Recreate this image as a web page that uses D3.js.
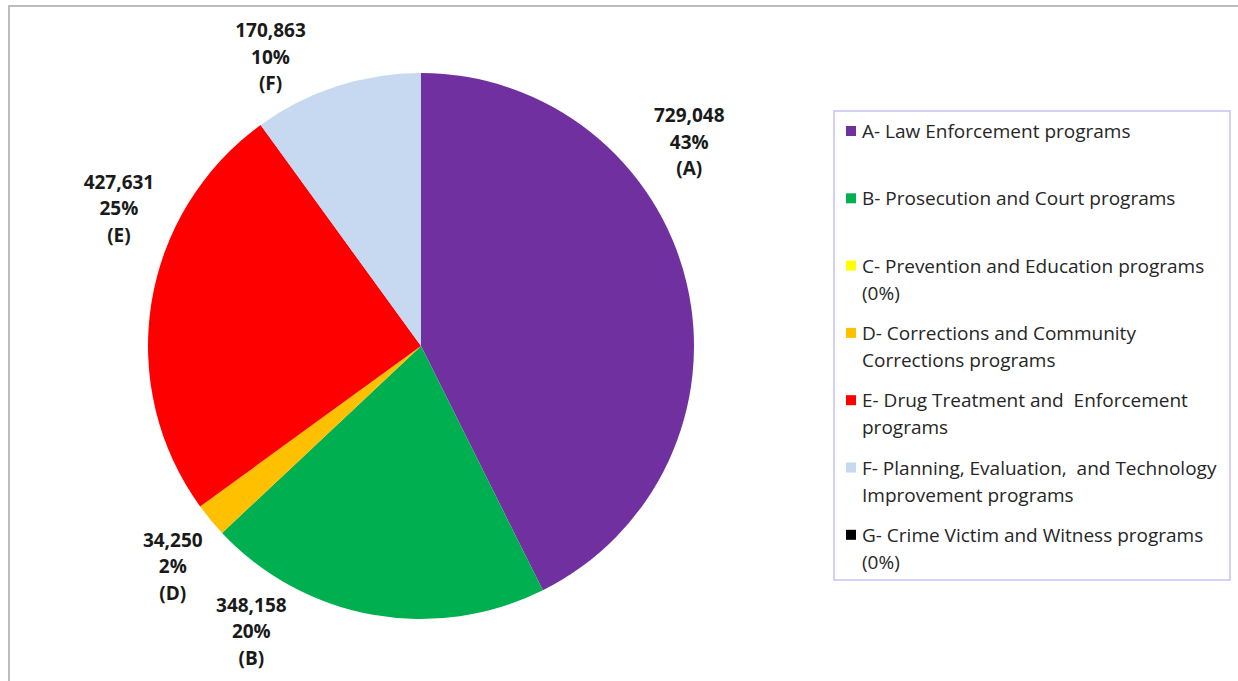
<!DOCTYPE html>
<html>
<head>
<meta charset="utf-8">
<script src="https://cdn.jsdelivr.net/npm/d3@7"></script>
<style>
  body { margin: 0; background: #fff; }
  svg { display: block; font-family: "Open Sans", "DejaVu Sans", sans-serif; }
  .legend text { white-space: pre; }
</style>
</head>
<body>
<svg id="chart" width="1238" height="681"></svg>
<script>
// --- Data ---
const codes = ["A", "B", "C", "D", "E", "F", "G"];
const categories = [
  "A- Law Enforcement programs",
  "B- Prosecution and Court programs",
  "C- Prevention and Education programs\n(0%)",
  "D- Corrections and Community\nCorrections programs",
  "E- Drug Treatment and  Enforcement\nprograms",
  "F- Planning, Evaluation,  and Technology\nImprovement programs",
  "G- Crime Victim and Witness programs\n(0%)"
];
const amounts = [729048, 348158, 0, 34250, 427631, 170863, 0];
const colors = ["#7030A0", "#00B050", "#FFFF00", "#FFC000", "#FF0000", "#C6D9F1", "#000000"];

// label placement (Excel best-fit emulation): [degrees added to mid-angle, px added to label radius]
const labelNudge = [[-24, 5], [20.6, 0], [0, 0], [-2, 0], [15.5, 0], [-9.5, -6], [0, 0]];

const svg = d3.select("#chart");

// outer chart frame
svg.append("rect")
  .attr("x", 9).attr("y", 6)
  .attr("width", 1260).attr("height", 700)
  .attr("fill", "none")
  .attr("stroke", "#a6a6a6")
  .attr("stroke-width", 1.5);

// --- Pie ---
const cx = 421, cy = 346, radius = 273;
const total = d3.sum(amounts);
const pie = d3.pie().sort(null).value((d) => d.value);
const rows = amounts.map((v, i) => ({ value: v, code: codes[i], color: colors[i], i }));
const arcs = pie(rows);
const arc = d3.arc().innerRadius(0).outerRadius(radius);

const g = svg.append("g").attr("transform", `translate(${cx},${cy})`);

g.selectAll("path")
  .data(arcs)
  .join("path")
  .attr("d", arc)
  .attr("fill", (d) => d.data.color);

// data labels
const fmt = d3.format(",");
const labelR = 332;
const lbl = g.selectAll("g.lbl")
  .data(arcs.filter((d) => d.data.value > 0))
  .join("g")
  .attr("class", "lbl")
  .attr("transform", (d) => {
    const [da, dr] = labelNudge[d.data.i];
    const a = (d.startAngle + d.endAngle) / 2 + da * Math.PI / 180;
    const r = labelR + dr;
    return `translate(${r * Math.sin(a)},${-r * Math.cos(a)})`;
  });

lbl.each(function(d) {
  const lines = [fmt(d.data.value), Math.round(d.data.value / total * 100) + "%", `(${d.data.code})`];
  d3.select(this).selectAll("text")
    .data(lines)
    .join("text")
    .attr("text-anchor", "middle")
    .attr("dominant-baseline", "central")
    .attr("y", (t, k) => (k - 1) * 26.5)
    .attr("font-size", "19px")
    .attr("font-weight", "700")
    .attr("fill", "#1a1a1a")
    .text((t) => t);
});

// --- Legend ---
const lx = 834, ly = 111, lw = 396, lh = 469;
svg.append("rect")
  .attr("x", lx).attr("y", ly)
  .attr("width", lw).attr("height", lh)
  .attr("fill", "#fff")
  .attr("stroke", "#c8c2f4")
  .attr("stroke-width", 1.5);

const slot = 67.3, lineH = 27;
const legend = svg.append("g").attr("class", "legend")
  .selectAll("g")
  .data(categories)
  .join("g")
  .attr("transform", (d, i) => `translate(${lx + 12},${ly + 20 + i * slot})`);

legend.append("rect")
  .attr("x", 0).attr("y", -5)
  .attr("width", 10).attr("height", 10)
  .attr("fill", (d, i) => colors[i]);

legend.each(function(d) {
  d3.select(this).selectAll("text")
    .data(d.split("\n"))
    .join("text")
    .attr("x", 16)
    .attr("y", (t, k) => k * lineH)
    .attr("dominant-baseline", "central")
    .attr("font-size", "19px")
    .attr("fill", "#262626")
    .text((t) => t);
});
</script>
</body>
</html>
